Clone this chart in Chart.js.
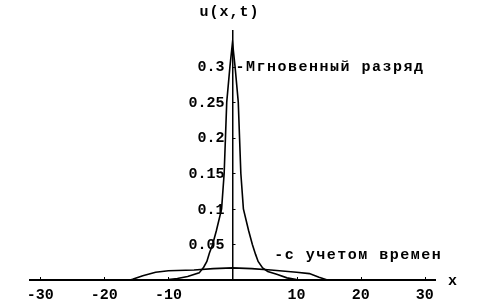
<!DOCTYPE html>
<html>
<head>
<meta charset="utf-8">
<script src="https://cdn.jsdelivr.net/npm/chart.js@4.4.1/dist/chart.umd.min.js"></script>
<style>
html,body{margin:0;padding:0;background:#fff;}
#wrap{width:490px;height:301px;}
</style>
</head>
<body>
<div id="wrap"><canvas id="c" width="490" height="301"></canvas></div>
<script>
// ---- data ----
const instantX = [-31.4, -15, -10, -8.6, -7, -5.2, -4.5, -4, -3.6, -3.1, -2.5, -1.7, -1.3, -1.1, -0.9, -0.4, 0, 0.4, 0.9, 1.1, 1.3, 1.7, 2.5, 3.1, 3.6, 4, 4.7, 5.5, 6.9, 8.5, 10, 15, 31.4];
const instantY = [0, 0, 0.0005, 0.002, 0.005, 0.01, 0.018, 0.026, 0.038, 0.05, 0.07, 0.1, 0.15, 0.2, 0.25, 0.3, 0.334, 0.3, 0.25, 0.2, 0.15, 0.1, 0.07, 0.05, 0.036, 0.026, 0.017, 0.012, 0.008, 0.003, 0.0005, 0, 0];
const delayX = [-31.4, -16, -15.6, -14, -12, -10, -6, -3, 0, 3, 6, 10, 12, 13.5, 14.8, 16, 31.4];
const delayY = [0, 0, 0.001, 0.006, 0.011, 0.013, 0.014, 0.016, 0.017, 0.016, 0.014, 0.011, 0.009, 0.004, 0, 0, 0];
const xTicks = [-30, -20, -10, 10, 20, 30];
const yTicks = [0.05, 0.1, 0.15, 0.2, 0.25, 0.3];
const yAxisTitle = 'u(x,t)';
const xAxisTitle = 'x';
const labelInstant = '-Мгновенный разряд';
const labelDelay = '-с учетом времен';

const FONT = 'bold 15px "Liberation Mono", "DejaVu Sans Mono", monospace';

function pts(xs, ys){ return xs.map((x,i)=>({x:x, y:ys[i]})); }

const decor = {
  id: 'decor',
  afterDraw(chart){
    const ctx = chart.ctx, sx = chart.scales.x, sy = chart.scales.y;
    const x0 = sx.getPixelForValue(0), y0 = sy.getPixelForValue(0);
    ctx.save();
    ctx.strokeStyle = '#000';
    ctx.lineWidth = 1;
    // inward tick marks
    xTicks.forEach(v=>{
      const px = Math.round(sx.getPixelForValue(v))+0.5;
      ctx.beginPath(); ctx.moveTo(px, y0); ctx.lineTo(px, y0-3); ctx.stroke();
    });
    yTicks.forEach(v=>{
      const py = Math.round(sy.getPixelForValue(v))+0.5;
      ctx.beginPath(); ctx.moveTo(x0, py); ctx.lineTo(x0+3, py); ctx.stroke();
    });
    ctx.fillStyle = '#000';
    ctx.font = FONT;
    // y tick labels, left of the axis
    ctx.textBaseline = 'middle';
    ctx.textAlign = 'right';
    sy.ticks.forEach(t=>{
      ctx.fillText(String(t.value), x0 - 8, sy.getPixelForValue(t.value) + 1);
    });
    ctx.letterSpacing = '1.5px';
    ctx.textAlign = 'left';
    ctx.fillText(labelInstant, sx.getPixelForValue(0.45), sy.getPixelForValue(0.299));
    ctx.fillText(labelDelay, sx.getPixelForValue(6.5), sy.getPixelForValue(0.035));
    ctx.letterSpacing = '1px';
    ctx.textAlign = 'center';
    ctx.fillText(yAxisTitle, x0 - 3, 12);
    ctx.textAlign = 'left';
    ctx.fillText(xAxisTitle, chart.chartArea.right + 13, y0 + 1);
    ctx.restore();
  }
};

new Chart(document.getElementById('c'), {
  type: 'scatter',
  data: {
    datasets: [
      { label: labelInstant, data: pts(instantX, instantY), showLine: true, borderColor: '#000', borderWidth: 1.6, pointRadius: 0, fill: false, tension: 0 },
      { label: labelDelay, data: pts(delayX, delayY), showLine: true, borderColor: '#000', borderWidth: 1.6, pointRadius: 0, fill: false, tension: 0 }
    ]
  },
  options: {
    responsive: false,
    animation: false,
    layout: { padding: { left: 30, right: 55, top: 31, bottom: 21 } },
    plugins: { legend: { display: false }, tooltip: { enabled: false } },
    scales: {
      x: {
        type: 'linear', position: { y: 0 }, min: -31.6, max: 31.6,
        afterBuildTicks: s => { s.ticks = xTicks.map(v=>({value:v})); },
        border: { display: true, color: '#000', width: 2 },
        grid: { display: false, drawOnChartArea: false, drawTicks: false },
        ticks: { color: '#000', font: { family: '"Liberation Mono", monospace', size: 15, weight: 'bold' }, padding: 6, maxRotation: 0, autoSkip: false, callback: v => String(v) }
      },
      y: {
        type: 'linear', position: { x: 0 }, min: 0, max: 0.35,
        afterBuildTicks: s => { s.ticks = yTicks.map(v=>({value:v})); },
        border: { display: true, color: '#000', width: 1.5, dash: [5, 2] },
        grid: { display: false, drawOnChartArea: false, drawTicks: false },
        ticks: { display: false, autoSkip: false }
      }
    }
  },
  plugins: [decor]
});
</script>
</body>
</html>
